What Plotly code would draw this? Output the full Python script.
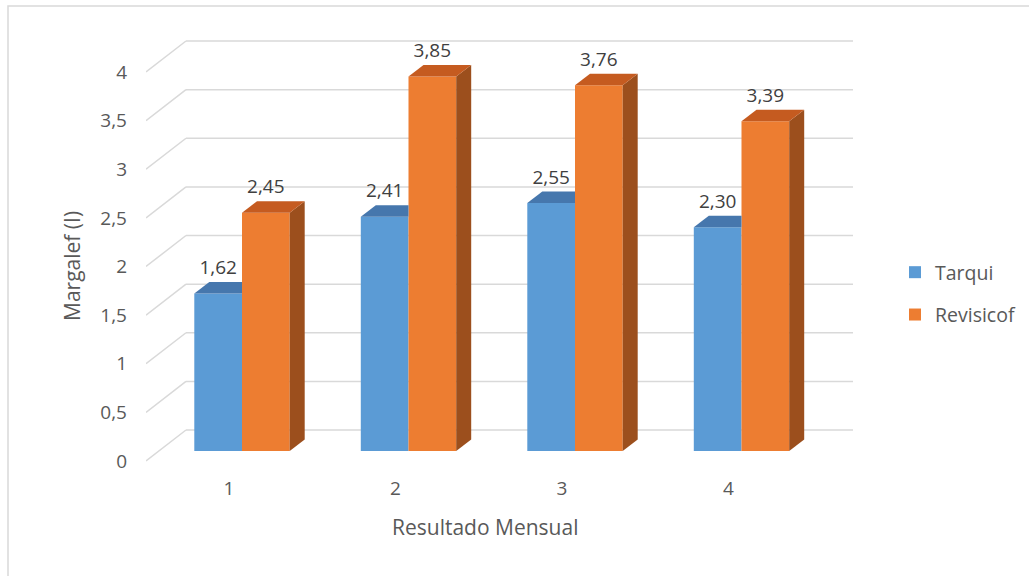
import plotly.graph_objects as go

# ---------------- data ----------------
categories = [1, 2, 3, 4]
x_tick_labels = ["1", "2", "3", "4"]
tarqui = [1.62, 2.41, 2.55, 2.30]
revisicof = [2.45, 3.85, 3.76, 3.39]
y_ticks = [0, 0.5, 1, 1.5, 2, 2.5, 3, 3.5, 4]
y_tick_labels = ["0", "0,5", "1", "1,5", "2", "2,5", "3", "3,5", "4"]

# ---------------- layout geometry (pixels) ----------------
W, H = 1029, 576
PL, PR, PT, PB = 146, 853, 30, 470     # plot area edges
X1_PX, CAT_PX = 229, 166.5             # pixel of category 1, spacing
Y0_PX, UNIT_PX = 461, 97.25            # pixel of value 0 (front plane), px per unit

ux = 1.0 / CAT_PX
uy = 1.0 / UNIT_PX
x_lo = 1 + (PL - X1_PX) * ux
x_hi = 1 + (PR - X1_PX) * ux
y_lo = (Y0_PX - PB) * uy
y_hi = (Y0_PX - PT) * uy

wall_dx, wall_dy = 40 * ux, 31 * uy    # depth of side wall
rec_dx, rec_dy = 13 * ux, 10 * uy      # bars recessed from front plane
bd_dx, bd_dy = 15 * ux, 11.5 * uy      # bar depth
bw = 47.7 * ux                         # bar width
lab_dy = 24 * uy                       # data label offset

FONT = "Open Sans"
GREY = "#595959"
BLUE, BLUE_TOP = "#5B9BD5", "#4677AD"
ORANGE, ORANGE_TOP, ORANGE_SIDE = "#ED7D31", "#C55B20", "#9C4F1D"

pw, ph = PR - PL, PB - PT


def px_x(px):
    return (px - PL) / pw


def px_y(py):
    return (PB - py) / ph


fig = go.Figure()

# front faces as bars
fig.add_trace(go.Bar(
    x=categories, y=tarqui, base=rec_dy, offset=rec_dx - bw, width=bw,
    marker=dict(color=BLUE, line=dict(width=0)), name="Tarqui",
    legendgroup="t", hoverinfo="skip"))
fig.add_trace(go.Bar(
    x=categories, y=revisicof, base=rec_dy, offset=rec_dx, width=bw,
    marker=dict(color=ORANGE, line=dict(width=0)), name="Revisicof",
    legendgroup="r", hoverinfo="skip"))


def poly(xs, ys, color):
    fig.add_trace(go.Scatter(
        x=xs + [xs[0]], y=ys + [ys[0]], mode="lines", fill="toself",
        fillcolor=color, line=dict(width=0, color=color),
        showlegend=False, hoverinfo="skip"))


for k, t, r in zip(categories, tarqui, revisicof):
    L = k + rec_dx - bw
    R = k + rec_dx
    ht = t + rec_dy
    hr = r + rec_dy
    # blue top (part not hidden by the orange bar)
    poly([L, R, R, L + bd_dx], [ht, ht, ht + bd_dy, ht + bd_dy], BLUE_TOP)
    # orange side
    poly([R + bw, R + bw + bd_dx, R + bw + bd_dx, R + bw],
         [rec_dy, rec_dy + bd_dy, hr + bd_dy, hr], ORANGE_SIDE)
    # orange top
    poly([R, R + bw, R + bw + bd_dx, R + bd_dx], [hr, hr, hr + bd_dy, hr + bd_dy], ORANGE_TOP)


# data labels
def fmt(v):
    return f"{v:.2f}".replace(".", ",")


for vals, sign in ((tarqui, -1), (revisicof, 1)):
    fig.add_trace(go.Scatter(
        x=[k + rec_dx + sign * bw / 2 for k in categories],
        y=[v + rec_dy + lab_dy for v in vals],
        text=[fmt(v) for v in vals], mode="text", textposition="middle center",
        textfont=dict(family=FONT, size=19, color="#404040"),
        showlegend=False, hoverinfo="skip"))

# gridlines (side wall + back wall)
shapes = []
for v in y_ticks:
    shapes.append(dict(type="line", xref="x", yref="y", layer="below",
                       x0=x_lo, y0=v, x1=x_lo + wall_dx, y1=v + wall_dy,
                       line=dict(color="#D9D9D9", width=1.5)))
    shapes.append(dict(type="line", xref="x", yref="y", layer="below",
                       x0=x_lo + wall_dx, y0=v + wall_dy, x1=x_hi, y1=v + wall_dy,
                       line=dict(color="#D9D9D9", width=1.5)))
# chart border
shapes.append(dict(type="rect", xref="paper", yref="paper", layer="below",
                   x0=px_x(8), x1=px_x(1040), y0=px_y(590), y1=px_y(6),
                   line=dict(color="#D9D9D9", width=1.5)))

annotations = [
    dict(text="Resultado Mensual", xref="paper", yref="paper",
         x=px_x(485), y=px_y(527), xanchor="center", yanchor="middle",
         showarrow=False, font=dict(family=FONT, size=21, color=GREY)),
    dict(text="Margalef (I)", xref="paper", yref="paper", textangle=-90,
         x=px_x(72), y=px_y(266), xanchor="center", yanchor="middle",
         showarrow=False, font=dict(family=FONT, size=21, color=GREY)),
]

fig.update_layout(
    width=W, height=H,
    margin=dict(l=PL, r=W - PR, t=PT, b=H - PB, autoexpand=False),
    paper_bgcolor="white", plot_bgcolor="rgba(0,0,0,0)",
    barmode="overlay",
    shapes=shapes,
    annotations=annotations,
    font=dict(family=FONT, color=GREY),
    xaxis=dict(range=[x_lo, x_hi], tickvals=categories, ticktext=x_tick_labels,
               showgrid=False, zeroline=False, showline=False, ticks="",
               tickfont=dict(size=19, color=GREY), ticklabelstandoff=5,
               fixedrange=True),
    yaxis=dict(range=[y_lo, y_hi], tickvals=y_ticks, ticktext=y_tick_labels,
               showgrid=False, zeroline=False, showline=False, ticks="",
               tickfont=dict(size=19, color=GREY), ticklabelstandoff=18,
               fixedrange=True),
    legend=dict(xref="container", yref="container", x=895 / W, y=1 - 253 / H,
                xanchor="left", yanchor="top", traceorder="grouped",
                tracegroupgap=14, font=dict(size=19.5, color=GREY),
                bgcolor="rgba(0,0,0,0)", itemwidth=30),
)

fig.write_html("out.html")
